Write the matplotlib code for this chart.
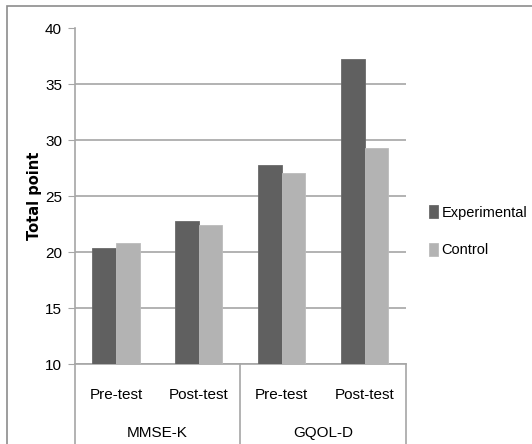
import numpy as np
import matplotlib.pyplot as plt
from matplotlib.patches import Rectangle
from matplotlib.transforms import blended_transform_factory

plt.rcParams['font.family'] = ['Liberation Sans', 'DejaVu Sans']

tests = ['Pre-test', 'Post-test', 'Pre-test', 'Post-test']
scales = ['MMSE-K', 'GQOL-D']
experimental = [20.4, 22.8, 27.8, 37.3]
control = [20.8, 22.4, 27.1, 29.3]

W, H = 532, 444
fig = plt.figure(figsize=(W / 100, H / 100), dpi=100)
ax = fig.add_axes([74.6 / W, 1 - 364 / H, (406 - 74.6) / W, (364 - 28.5) / H])

x = np.arange(len(tests))
w = 0.285
ax.bar(x - w / 2, experimental, w, color='#606060', edgecolor='#6a6a6a', lw=0.6,
       label='Experimental', zorder=3)
ax.bar(x + w / 2, control, w, color='#b3b3b3', edgecolor='#bcbcbc', lw=0.6,
       label='Control', zorder=3)

ax.set_ylim(10, 40)
ax.set_xlim(-0.5, 3.5)
ax.set_yticks(range(10, 41, 5))
ax.yaxis.grid(True, color='#a6a6a6', lw=1.2, zorder=0)
ax.set_axisbelow(True)
for s in ['top', 'right']:
    ax.spines[s].set_visible(False)
for s in ['left', 'bottom']:
    ax.spines[s].set_color('#a6a6a6')
    ax.spines[s].set_linewidth(1.2)
ax.tick_params(axis='y', length=5, color='#a6a6a6', labelsize=11, pad=4)
ax.set_xticks(x)
ax.set_xticklabels(tests, fontsize=11)
ax.tick_params(axis='x', length=0, pad=17)
ax.set_ylabel('Total point', fontsize=10.5, fontweight='bold', family=['DejaVu Sans'], labelpad=2)

# two-level category axis: separators and group names under the tick labels
tr = blended_transform_factory(ax.transData, ax.transAxes)
drop = -(445 - 364) / (364 - 28.5)
for xv in [-0.5, 1.5, 3.5]:
    ax.plot([xv, xv], [0, drop], transform=tr, color='#a6a6a6', lw=1.2, clip_on=False)
for i, name in enumerate(scales):
    ax.text(2 * i + 0.5, -(433 - 364) / (364 - 28.5), name, transform=tr,
            ha='center', va='center', fontsize=11)

fig.legend(loc='upper left', bbox_to_anchor=(429 / W, 1 - 205 / H), frameon=False,
           fontsize=10.5, handlelength=0.6, handleheight=1.0, handletextpad=0.25,
           labelspacing=1.6, borderpad=0, borderaxespad=0)

# outer chart border
fig.add_artist(Rectangle((7 / W, -0.1), 2, 1.1 - 6 / H, transform=fig.transFigure,
                         fill=False, edgecolor='#8c8c8c', lw=1.2))

fig.savefig('out.png', dpi=100)
